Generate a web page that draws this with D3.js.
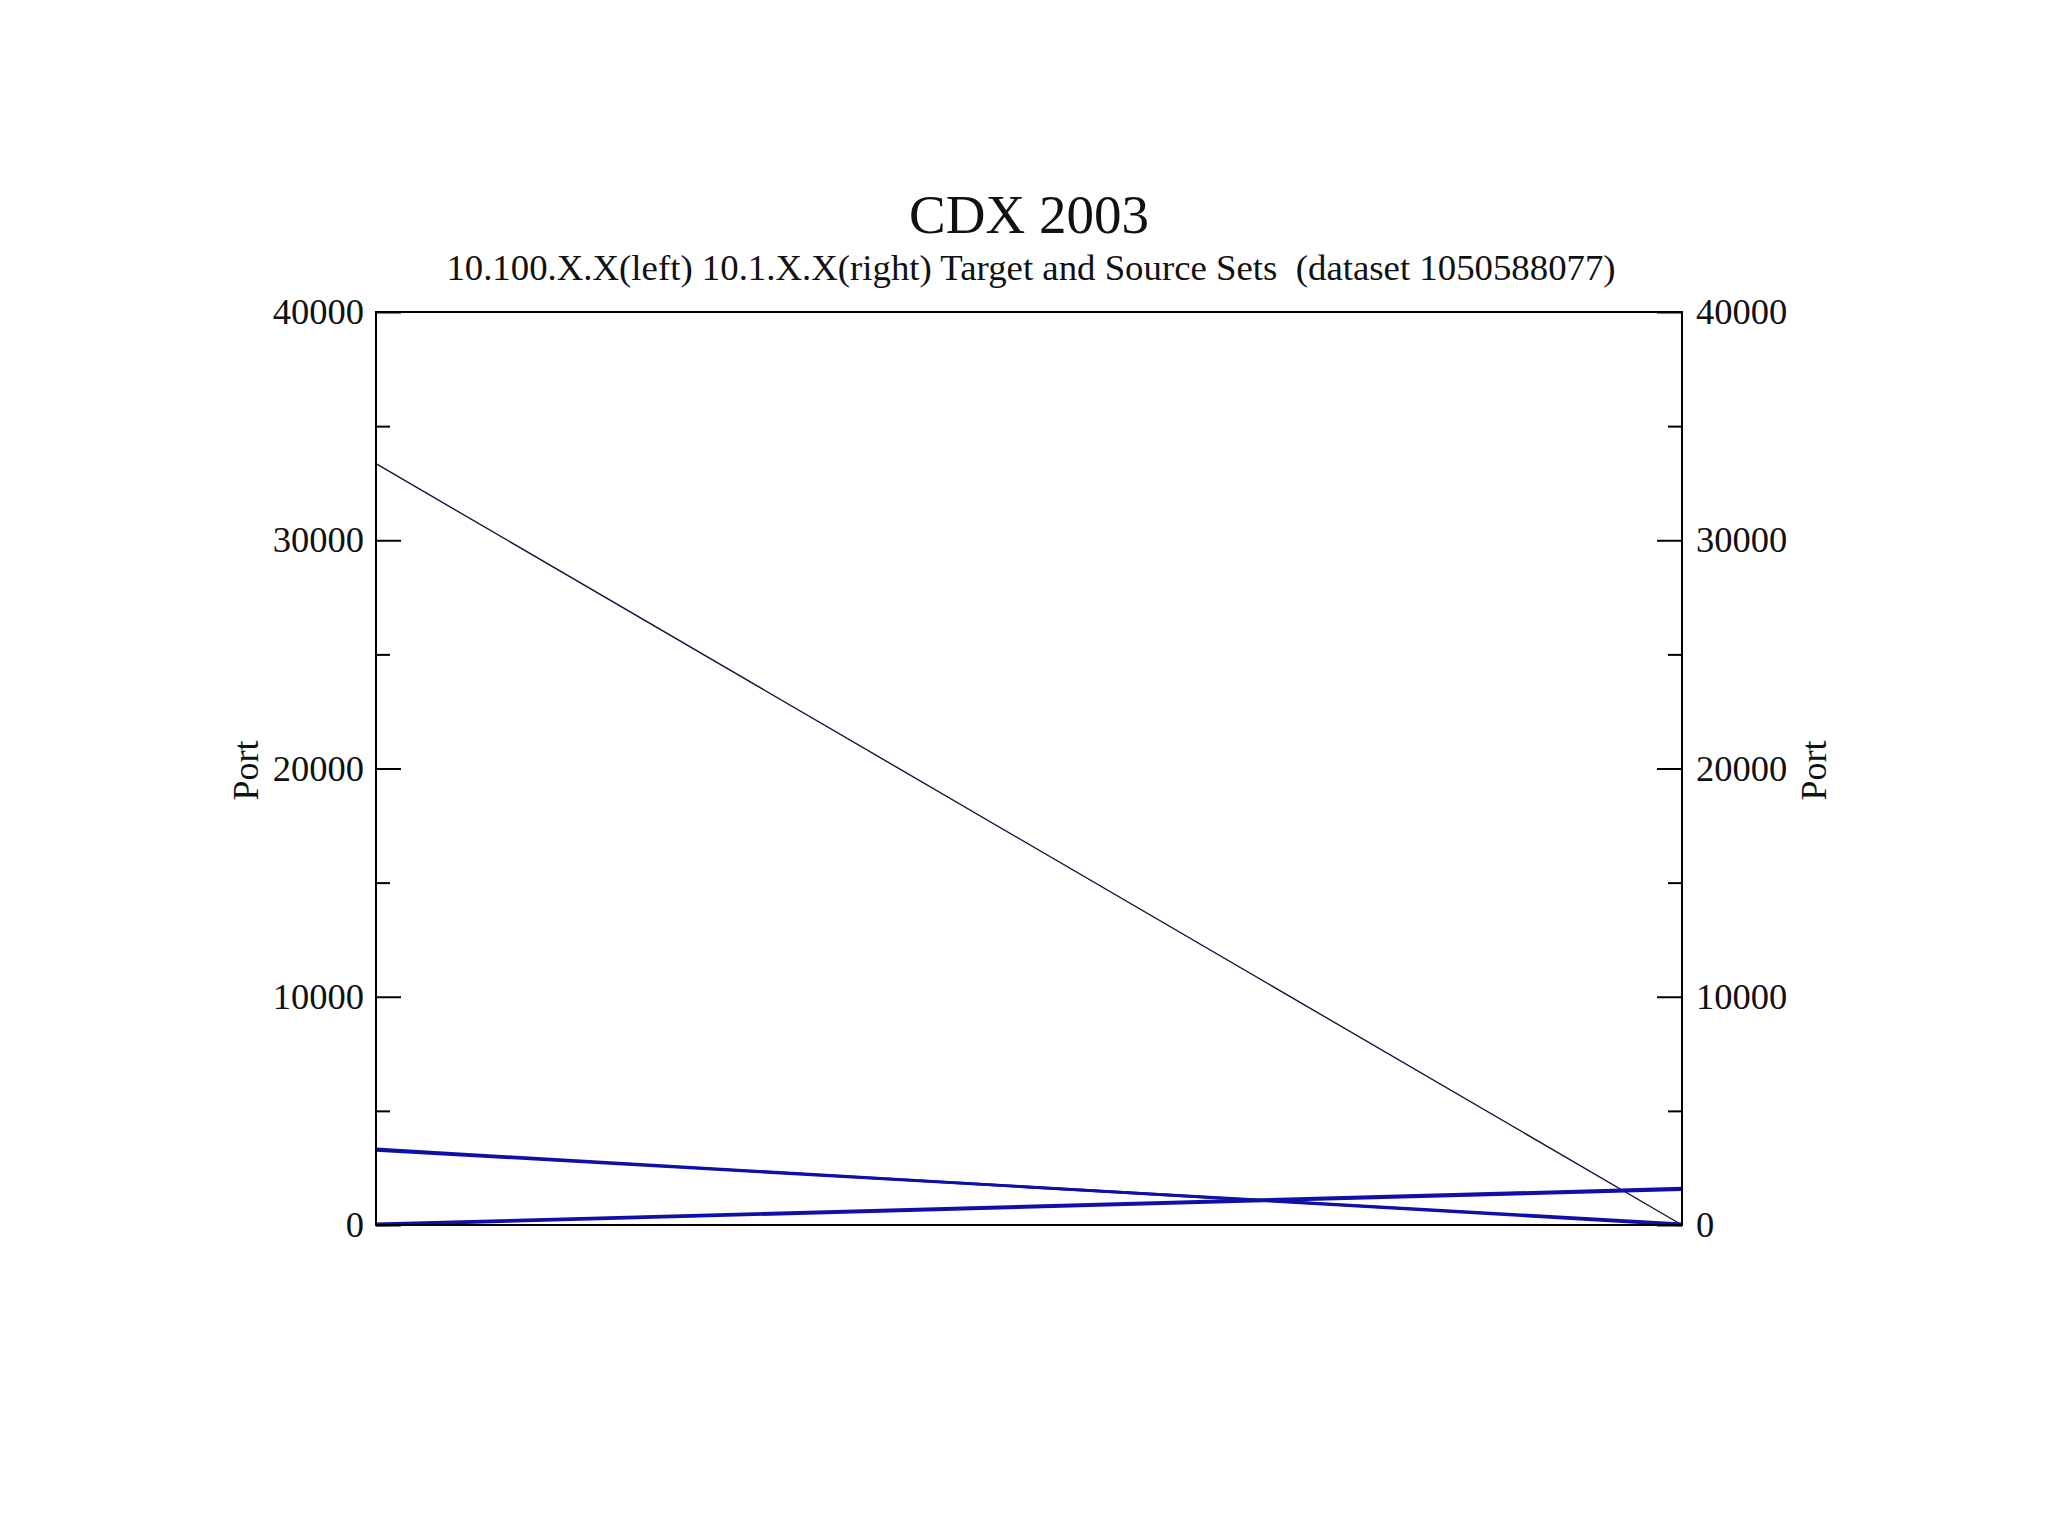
<!DOCTYPE html>
<html>
  <head>
    <title>CDX 2003</title>
    <script src="https://cdn.jsdelivr.net/npm/d3@7"></script>
    <style>
      body { margin: 0; background: #fff; }
      text { font-family: "Liberation Serif", "DejaVu Serif", serif; fill: #111; }
    </style>
  </head>
  <body>
    <svg id="chart"></svg>
    <script>
// parallel axes: left = 10.100.X.X, right = 10.1.X.X
const axisNames = ['left', 'right'];
const leftPort = [33354, 3330, 3275, 0, 45];
const rightPort = [0, 0, 50, 1555, 1610];
const linkSet = ['other', 'target', 'target', 'source', 'source'];
const majorTicks = [0, 10000, 20000, 30000, 40000];
const minorTicks = [5000, 15000, 25000, 35000];

let width = 2048,
    height = 1536;

let plotLeft = 376, plotRight = 1682,
    plotTop = 312, plotBottom = 1225;

let svg = d3.select('#chart')
  .attr('width', width)
  .attr('height', height);

let x = d3.scalePoint()
  .domain(axisNames)
  .range([plotLeft, plotRight]);

let y = d3.scaleLinear()
  .domain([0, 40000])
  .range([plotBottom, plotTop]);

let links = leftPort.map((v, i) => ({left: v, right: rightPort[i], set: linkSet[i]}));

// lines first so the frame sits on top
let line = d3.line()
  .x(d => x(d[0]))
  .y(d => y(d[1]));

svg.append('g')
  .selectAll('path')
  .data(links)
  .enter()
  .append('path')
  .attr('d', d => line([['left', d.left], ['right', d.right]]))
  .attr('fill', 'none')
  .attr('stroke', d => d.set === 'other' ? '#14143c' : '#1010a8')
  .attr('stroke-width', d => d.set === 'other' ? 1.4 : 2.8);

// frame
svg.append('rect')
  .attr('x', plotLeft)
  .attr('y', plotTop)
  .attr('width', plotRight - plotLeft)
  .attr('height', plotBottom - plotTop)
  .attr('fill', 'none')
  .attr('stroke', '#000')
  .attr('stroke-width', 2);

function styleAxis(g) {
  g.select('.domain').remove();
  g.selectAll('line').attr('stroke', '#000').attr('stroke-width', 2);
  g.selectAll('text')
    .style('font-family', '"Liberation Serif", serif')
    .style('font-size', '36.5px')
    .attr('fill', '#111');
}

// left axis, ticks pointing inward
svg.append('g')
  .attr('transform', 'translate(' + plotLeft + ',0)')
  .call(d3.axisLeft(y).tickValues(majorTicks).tickSize(-25).tickPadding(12).tickFormat(d3.format('d')))
  .call(styleAxis);

svg.append('g')
  .attr('transform', 'translate(' + plotLeft + ',0)')
  .call(d3.axisLeft(y).tickValues(minorTicks).tickSize(-14).tickFormat(''))
  .call(styleAxis);

// right axis
svg.append('g')
  .attr('transform', 'translate(' + plotRight + ',0)')
  .call(d3.axisRight(y).tickValues(majorTicks).tickSize(-25).tickPadding(14).tickFormat(d3.format('d')))
  .call(styleAxis);

svg.append('g')
  .attr('transform', 'translate(' + plotRight + ',0)')
  .call(d3.axisRight(y).tickValues(minorTicks).tickSize(-14).tickFormat(''))
  .call(styleAxis);

// titles
let cx = (plotLeft + plotRight) / 2;

svg.append('text')
  .attr('x', cx)
  .attr('y', 233)
  .attr('text-anchor', 'middle')
  .style('font-size', '55px')
  .text('CDX 2003');

svg.append('text')
  .attr('x', cx + 2)
  .attr('y', 280)
  .attr('text-anchor', 'middle')
  .style('font-size', '36.8px')
  .style('white-space', 'pre')
  .text('10.100.X.X(left) 10.1.X.X(right) Target and Source Sets  (dataset 1050588077)');

// axis titles
let cy = (plotTop + plotBottom) / 2;

svg.append('text')
  .attr('transform', 'translate(' + 258 + ',' + (cy + 2) + ') rotate(-90)')
  .attr('text-anchor', 'middle')
  .style('font-size', '36px')
  .text('Port');

svg.append('text')
  .attr('transform', 'translate(' + 1826 + ',' + (cy + 2) + ') rotate(-90)')
  .attr('text-anchor', 'middle')
  .style('font-size', '36px')
  .text('Port');
    </script>
  </body>
</html>
